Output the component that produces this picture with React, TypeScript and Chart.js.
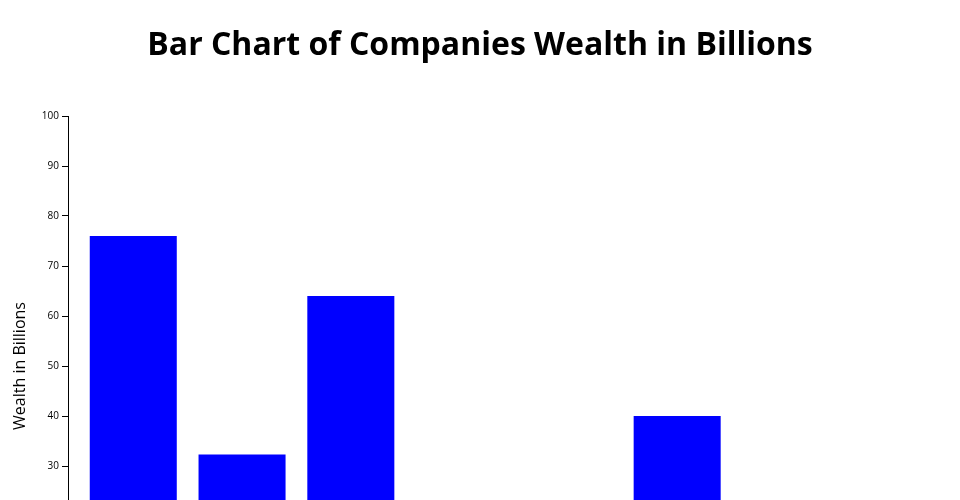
import React, { useEffect, useRef } from "react";
import { Chart, registerables } from "chart.js";

Chart.register(...registerables);

const companies = ["Apple", "Amazon", "Microsoft", "Tesla", "Meta", "Alphabet", "Netflix", "Nvidia"];
const wealth = [76, 32.3, 64, 14, 19, 40, 9, 17];
const yTicks = [0, 10, 20, 30, 40, 50, 60, 70, 80, 90, 100];

const CHART_TITLE = "Bar Chart of Companies Wealth in Billions";
const Y_TITLE = "Wealth in Billions";

export default function App() {
  const canvasRef = useRef<HTMLCanvasElement | null>(null);

  useEffect(() => {
    let chart: Chart | null = null;
    let cancelled = false;
    const fontsReady = Promise.all([
      document.fonts.load('bold 32px "Open Sans"'),
      document.fonts.load('16px "Open Sans"'),
      document.fonts.load('10px "Open Sans"'),
    ]).catch(() => null);

    fontsReady.then(() => {
      if (cancelled || !canvasRef.current) return;
      const n = companies.length;
      chart = new Chart(canvasRef.current, {
        type: "bar",
        data: {
          datasets: [
            {
              data: wealth.map((v, i) => ({ x: i, y: v })),
              backgroundColor: "#0000ff",
              borderWidth: 0,
              categoryPercentage: 1,
              barPercentage: 0.8,
            },
          ],
        },
        options: {
          responsive: false,
          animation: false,
          layout: { padding: { top: 0, left: 0, right: 0, bottom: 0 } },
          plugins: {
            legend: { display: false },
            tooltip: { enabled: false },
            title: {
              display: true,
              text: CHART_TITLE,
              color: "#000",
              font: { family: '"Open Sans", sans-serif', size: 32, weight: "bold", lineHeight: 1.2 },
              padding: { top: 26.2, bottom: 51.4 },
            },
          },
          scales: {
            x: {
              type: "linear",
              offset: false,
              min: -0.6,
              max: n - 0.4,
              afterBuildTicks: (scale: any) => {
                scale.ticks = companies.map((_, i) => ({ value: i }));
              },
              afterFit: (scale: any) => {
                scale.height = 44;
              },
              ticks: {
                color: "#000",
                font: { family: '"Open Sans", sans-serif', size: 10 },
                padding: 3,
                autoSkip: false,
                maxRotation: 0,
                callback: (v: any) => companies[Number(v)] ?? "",
              },
              grid: { offset: false, drawOnChartArea: false, drawTicks: true, tickLength: 6, color: "#000" },
              border: { display: true, color: "#000", width: 1 },
            },
            y: {
              min: 0,
              max: 100,
              afterBuildTicks: (scale: any) => {
                scale.ticks = yTicks.map((v) => ({ value: v }));
              },
              afterFit: (scale: any) => {
                scale.width = 68;
              },
              ticks: {
                color: "#000",
                font: { family: '"Open Sans", sans-serif', size: 10 },
                padding: 3,
              },
              grid: { drawOnChartArea: false, drawTicks: true, tickLength: 6, color: "#000" },
              border: { display: true, color: "#000", width: 1 },
              title: {
                display: true,
                text: Y_TITLE,
                color: "#000",
                font: { family: '"Open Sans", sans-serif', size: 16, lineHeight: 1.2 },
                padding: { top: 10.8, bottom: 0 },
              },
            },
          },
        },
      });
    });

    return () => {
      cancelled = true;
      if (chart) chart.destroy();
    };
  }, []);

  return (
    <div
      style={{
        position: "fixed",
        left: 0,
        top: 0,
        width: 960,
        height: 500,
        overflow: "hidden",
        background: "#fff",
      }}
    >
      <canvas ref={canvasRef} width={960} height={660} style={{ display: "block", width: 960, height: 660 }} />
    </div>
  );
}
